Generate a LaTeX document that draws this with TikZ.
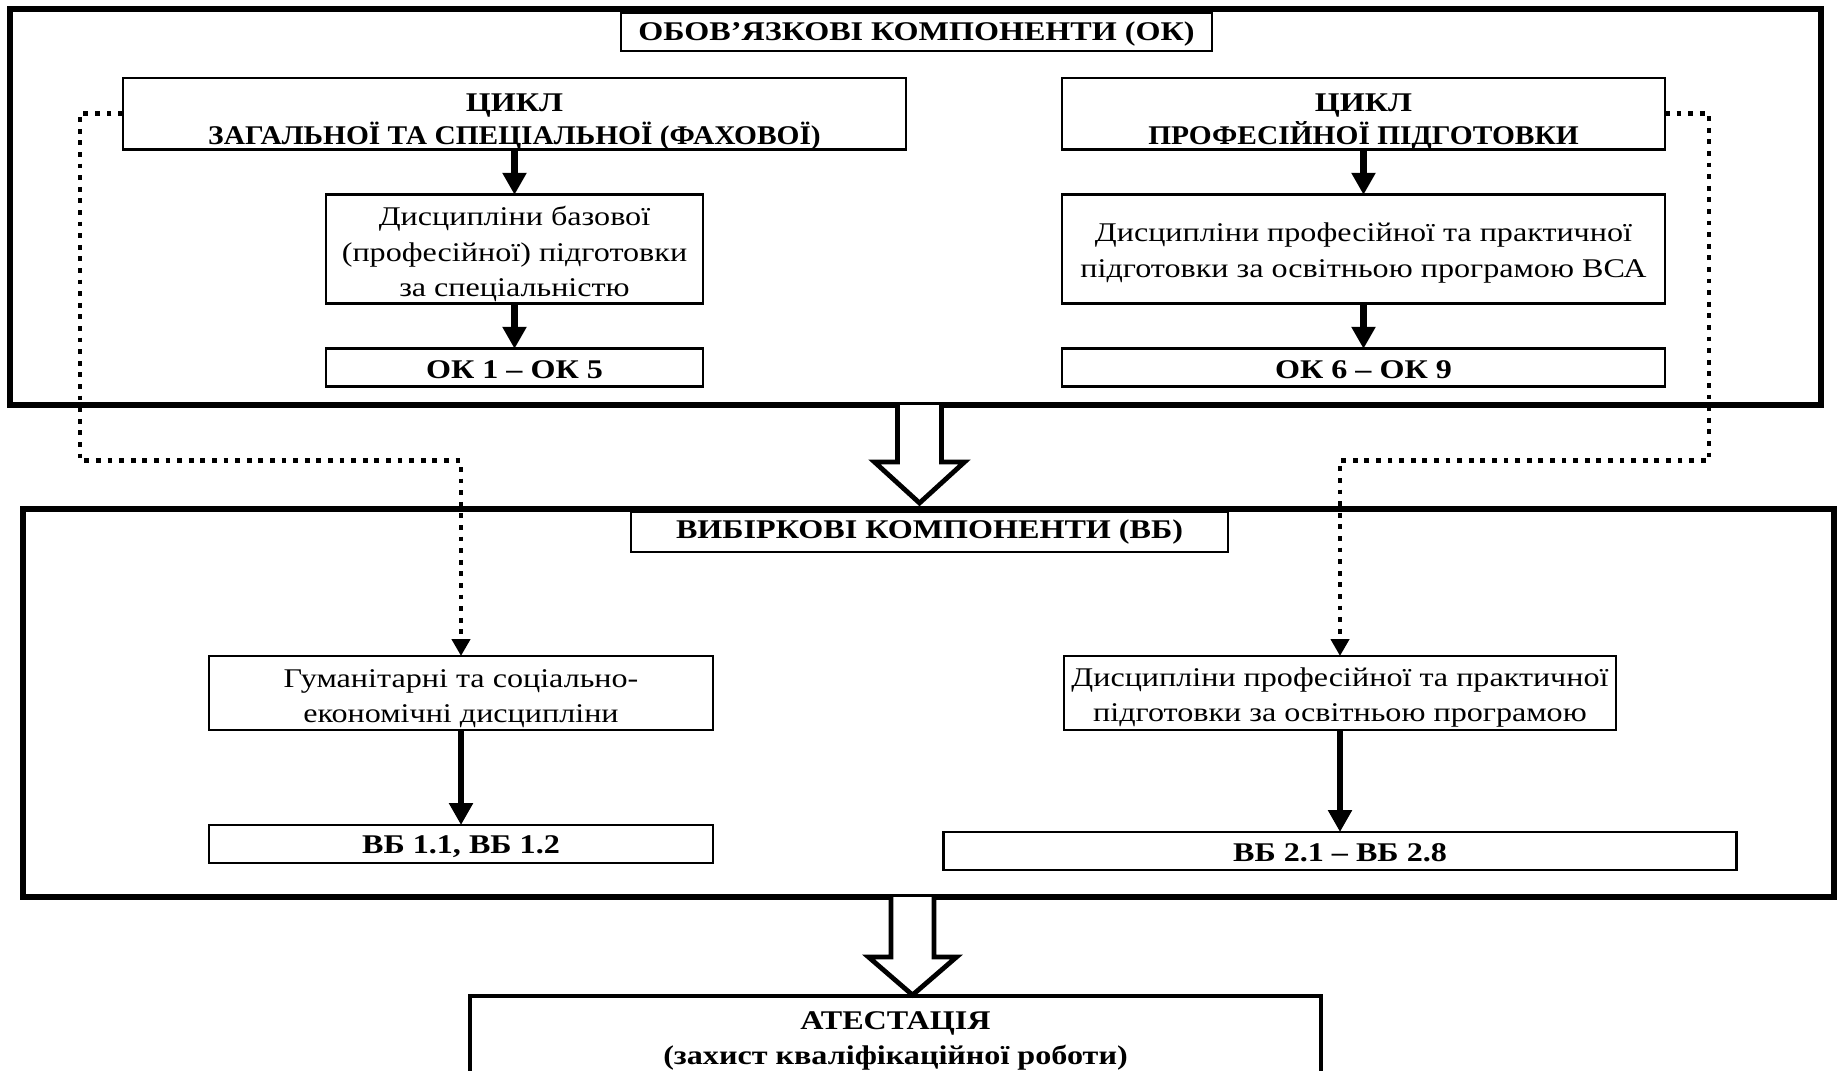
\documentclass[tikz,border=0pt]{standalone}
\usepackage{fontspec}
\setmainfont{Liberation Serif}[FakeStretch=1.19]
\newfontfamily\ObsNarrow{Liberation Serif}[FakeStretch=1.09]
\usetikzlibrary{arrows.meta,calc,positioning}
\newlength{\ObsPx}
\setlength{\ObsPx}{0.5pt}
\newcommand{\ObsDrop}[1]{\rule{0pt}{#1}}
\tikzset{/ects/frame/.style={
	shape=rectangle, draw=black, line width=3pt, inner sep=0, outer sep=0, anchor=north west
}}
\tikzset{/ects/box/.style={rectangle, draw=black, line width=1.3pt, inner sep=0, outer sep=0, align=center, font=\fontsize{13.5}{17.6}\selectfont
}}
\tikzset{/ects/head/.style={/ects/box, font=\fontsize{13.5}{16.5}\selectfont\bfseries
}}
\tikzset{/ects/arrow/.style={-{Triangle[width=11.5pt,length=11pt]}, line width=3.3pt
}}
\tikzset{/ects/dots/.style={-{Triangle[width=9pt,length=8.5pt]}, line width=2.4pt, dash pattern=on 2.4pt off 3.4pt
}}
\tikzset{/ects/fat/.style={draw=black, fill=white, line width=2.4pt, line join=miter
}}

\begin{document}
\begin{tikzpicture}[x=\ObsPx, y=-\ObsPx]
			\useasboundingbox (0,0) rectangle (1840,1070);
			% obov'yazkovi komponenty
			\path (10,9) node[/ects/frame, minimum width=1811\ObsPx, minimum height=396\ObsPx] (OKbox) {};
			\path (OKbox.north) ++(1,4) node[/ects/head, anchor=north, minimum width=591\ObsPx, minimum height=38\ObsPx] (OKtitle) {\ObsDrop{11.5pt}ОБОВ’ЯЗКОВІ КОМПОНЕНТИ (ОК)};
			\path (OKbox.north west) ++(113,69) node[/ects/head, anchor=north west, minimum width=783\ObsPx, minimum height=70\ObsPx] (CycleGen) {\ObsDrop{16.5pt}ЦИКЛ\\{\ObsNarrow ЗАГАЛЬНОЇ ТА СПЕЦІАЛЬНОЇ (ФАХОВОЇ)}};
			\path (CycleGen.south) ++(0,45) node[/ects/box, anchor=north, minimum width=377\ObsPx, minimum height=109\ObsPx] (DiscBase) {\ObsDrop{14.4pt}Дисципліни базової\\(професійної) підготовки\\за спеціальністю};
			\path (DiscBase.south) ++(0,45) node[/ects/head, anchor=north, minimum width=377\ObsPx, minimum height=38\ObsPx] (OKfirst) {\ObsDrop{10.7pt}ОК 1 – ОК 5};
			\path (OKbox.north west) ++(1052,69) node[/ects/head, anchor=north west, minimum width=603\ObsPx, minimum height=70\ObsPx] (CycleProf) {\ObsDrop{16.5pt}ЦИКЛ\\{\ObsNarrow ПРОФЕСІЙНОЇ ПІДГОТОВКИ}};
			\path (CycleProf.south) ++(0,45) node[/ects/box, anchor=north, minimum width=603\ObsPx, minimum height=109\ObsPx] (DiscProf) {\ObsDrop{13.2pt}Дисципліни професійної та практичної\\підготовки за освітньою програмою ВСА};
			\path (DiscProf.south) ++(0,45) node[/ects/head, anchor=north, minimum width=603\ObsPx, minimum height=38\ObsPx] (OKlast) {\ObsDrop{10.7pt}ОК 6 – ОК 9};
			\path[/ects/arrow, draw] (CycleGen) -- (DiscBase);
			\path[/ects/arrow, draw] (DiscBase) -- (OKfirst);
			\path[/ects/arrow, draw] (CycleProf) -- (DiscProf);
			\path[/ects/arrow, draw] (DiscProf) -- (OKlast);
			% vybirkovi komponenty
			\path (23,509) node[/ects/frame, minimum width=1811\ObsPx, minimum height=388\ObsPx] (VBbox) {};
			\path (VBbox.north) ++(1,3) node[/ects/head, anchor=north, minimum width=597\ObsPx, minimum height=40\ObsPx] (VBtitle) {\ObsDrop{9.5pt}ВИБІРКОВІ КОМПОНЕНТИ (ВБ)};
			\path (VBbox.north west) ++(186,147) node[/ects/box, anchor=north west, minimum width=504\ObsPx, minimum height=74\ObsPx] (Human) {\ObsDrop{14.4pt}Гуманітарні та соціально-\\економічні дисципліни};
			\path (Human.south) ++(0,95) node[/ects/head, anchor=north, minimum width=504\ObsPx, minimum height=38\ObsPx] (VBfirst) {\ObsDrop{11.5pt}ВБ 1.1, ВБ 1.2};
			\path (VBbox.north west) ++(1041,147) node[/ects/box, anchor=north west, minimum width=552\ObsPx, minimum height=74\ObsPx] (DiscOpt) {\ObsDrop{13.8pt}Дисципліни професійної та практичної\\підготовки за освітньою програмою};
			\path (DiscOpt.south) ++(0,102) node[/ects/head, anchor=north, minimum width=793\ObsPx, minimum height=38\ObsPx] (VBlast) {\ObsDrop{10.7pt}ВБ 2.1 – ВБ 2.8};
			\path[/ects/arrow, draw] (Human) -- (VBfirst);
			\path[/ects/arrow, draw] (DiscOpt) -- (VBlast);
			% atestatsiya
			\path (VBbox.south) ++(-33,99) node[/ects/head, anchor=north, line width=2pt, minimum width=851\ObsPx, minimum height=80\ObsPx, font=\fontsize{13.5}{17.5}\selectfont\bfseries] (Atest) {\ObsDrop{14.2pt}АТЕСТАЦІЯ\\(захист кваліфікаційної роботи)};
			% dotted links
			\path[/ects/dots, draw] (CycleGen.west) -- ++(-43,0) -- ++(0,347) -| (Human.north);
			\path[/ects/dots, draw] (CycleProf.east) -- ++(44,0) -- ++(0,347) -| (DiscOpt.north);
			% hollow arrows
			\path (OKbox.south) ++(4,0) coordinate (fatA);
			\path[/ects/fat] (fatA) ++(-22,0) -- ++(0,57) -- ++(-23,0) -- ++(45,41) -- ++(45,-41) -- ++(-23,0) -- ++(0,-57);
			\path (VBbox.south) ++(-16,0) coordinate (fatB);
			\path[/ects/fat] (fatB) ++(-21.5,0) -- ++(0,60) -- ++(-22.5,0) -- ++(44,38) -- ++(44,-38) -- ++(-22.5,0) -- ++(0,-60);
		\end{tikzpicture}
\end{document}
